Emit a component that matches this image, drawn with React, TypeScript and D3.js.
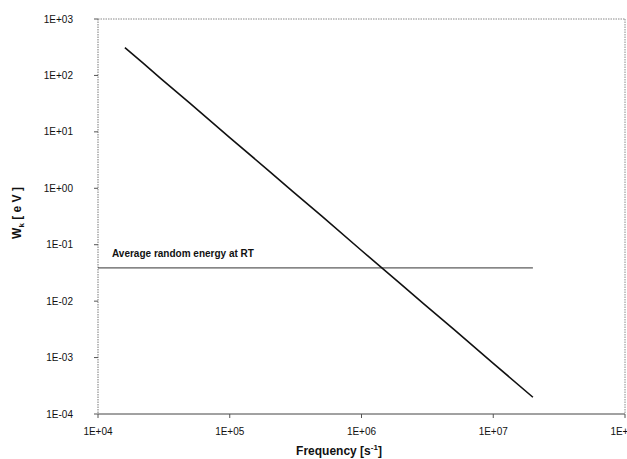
import React from "react";
import * as d3 from "d3";

const frequency = [1.6e4, 2.2e4, 3e4, 5e4, 1e5, 2e5, 3e5, 5e5, 1e6, 2e6, 3e6, 5e6, 1e7, 2e7];
const energy = [310, 165, 88, 32, 7.9, 2.0, 0.88, 0.32, 0.079, 0.0198, 0.0088, 0.0032, 0.00079, 0.000198];
const rtEnergy = 0.0388;
const rtRange = [1e4, 2e7];
const xTicks = [1e4, 1e5, 1e6, 1e7, 1e8];
const xTickLabels = ["1E+04", "1E+05", "1E+06", "1E+07", "1E+08"];
const yTicks = [1e3, 1e2, 1e1, 1e0, 1e-1, 1e-2, 1e-3, 1e-4];
const yTickLabels = ["1E+03", "1E+02", "1E+01", "1E+00", "1E-01", "1E-02", "1E-03", "1E-04"];

const W = 627, H = 459;
const left = 98, right = 625, top = 19, bottom = 414;

export default function App() {
  const x = d3.scaleLog().domain([1e4, 1e8]).range([left, right]);
  const y = d3.scaleLog().domain([1e-4, 1e3]).range([bottom, top]);
  const line = d3.line<number>().x((_, i) => x(frequency[i])).y((d) => y(d));
  const font = "'Liberation Sans', Arial, sans-serif";
  return (
    <svg width={W} height={H} style={{ position: "absolute", left: 0, top: 0, background: "#fff" }} fontFamily={font}>
      <rect x={0} y={0} width={W} height={H} fill="#fff" />
      {/* frame */}
      <line x1={left} y1={top} x2={right} y2={top} stroke="#888" strokeWidth={1} strokeDasharray="1.5 1" />
      <line x1={right} y1={top} x2={right} y2={bottom} stroke="#888" strokeWidth={1} strokeDasharray="1.5 1" />
      <line x1={left} y1={top} x2={left} y2={bottom} stroke="#777" strokeWidth={1} strokeDasharray="1.5 1" />
      <line x1={left} y1={bottom} x2={right} y2={bottom} stroke="#444" strokeWidth={1} />
      {yTicks.map((t, i) => (
        <g key={"y" + i}>
          <line x1={left - 4} x2={left} y1={y(t)} y2={y(t)} stroke="#555" />
          <text x={73} y={y(t) + 3.5} fontSize={10} textAnchor="end" fill="#111">{yTickLabels[i]}</text>
        </g>
      ))}
      {xTicks.map((t, i) => (
        <g key={"x" + i}>
          <line x1={x(t)} x2={x(t)} y1={bottom} y2={bottom + 4} stroke="#555" />
          <text x={x(t)} y={435} fontSize={10} textAnchor="middle" fill="#111">{xTickLabels[i]}</text>
        </g>
      ))}
      {/* RT line */}
      <line x1={x(rtRange[0])} x2={x(rtRange[1])} y1={y(rtEnergy)} y2={y(rtEnergy)} stroke="#333" strokeWidth={1} />
      <text x={112} y={257} fontSize={10} fontWeight="bold" fill="#111">Average random energy at RT</text>
      <path d={line(energy) || ""} fill="none" stroke="#111" strokeWidth={1.6} />
      {/* axis titles */}
      <text x={339} y={455} fontSize={12} fontWeight="bold" textAnchor="middle" fill="#111">
        Frequency [s<tspan dy={-5} fontSize={8}>-1</tspan><tspan dy={5}>]</tspan>
      </text>
      <text transform="translate(21,213) rotate(-90)" fontSize={12} fontWeight="bold" textAnchor="middle" fill="#111">
        W<tspan dy={3} fontSize={8}>k</tspan><tspan dy={-3}> [ e V ]</tspan>
      </text>
    </svg>
  );
}
